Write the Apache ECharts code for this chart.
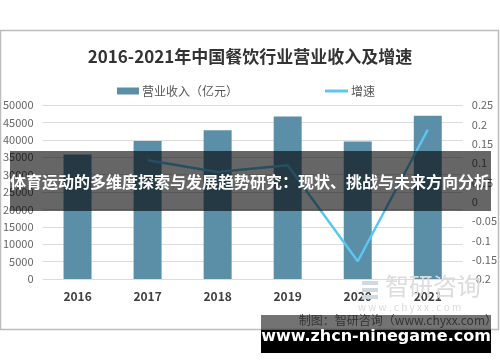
<!DOCTYPE html>
<html><head><meta charset="utf-8">
<script src="https://cdn.jsdelivr.net/npm/echarts@6/dist/echarts.min.js"></script>
<style>html,body{margin:0;padding:0;background:#fff}#c{width:500px;height:362px}</style>
</head><body><div id="c"></div>
<script>
var categories = ['2016', '2017', '2018', '2019', '2020', '2021'];
var revenue = [35799, 39644, 42716, 46721, 39527, 46895];
var growth = [null, 0.107, 0.077, 0.094, -0.154, 0.186];
var leftTicks = {min: 0, max: 50000, interval: 5000};
var rightTicks = {min: -0.2, max: 0.25, interval: 0.05};
var titleText = '2016-2021年中国餐饮行业营业收入及增速';
var seriesNames = ['营业收入（亿元）', '增速'];
var bannerText = '体育运动的多维度探索与发展趋势研究：现状、挑战与未来方向分析';
var sourceText = '制图：智研咨询（www.chyxx.com）';
var siteText = 'www.zhcn-ninegame.com';

var FF = '"Noto Sans CJK SC", "Noto Sans", sans-serif';
var chart = echarts.init(document.getElementById('c'));
chart.setOption({
  animation: false,
  textStyle: {fontFamily: FF},
  title: {text: titleText, left: 'center', top: 43,
    textStyle: {fontSize: 17, fontWeight: 'bold', color: '#333', fontFamily: FF}},
  legend: [
    {data: [seriesNames[0]], left: 112, top: 80, itemWidth: 22, itemHeight: 7, itemGap: 3,
     icon: 'rect', textStyle: {fontSize: 12, color: '#555', padding: [0,0,0,-2]}},
    {data: [seriesNames[1]], left: 320, top: 80, itemWidth: 23, itemHeight: 3,
     icon: 'rect', textStyle: {fontSize: 12, color: '#555', padding: [0,0,0,-2]}}
  ],
  grid: {left: 39, right: 36, top: 105, bottom: 83},
  xAxis: {type: 'category', data: categories,
    axisLine: {show: false}, axisTick: {show: false},
    axisLabel: {fontSize: 12, fontWeight: 'bold', color: '#404040', margin: 11}},
  yAxis: [
    {type: 'value', min: leftTicks.min, max: leftTicks.max, interval: leftTicks.interval,
     axisLine: {show: false}, axisTick: {show: false},
     axisLabel: {fontSize: 11, color: '#666', margin: 9,
       formatter: function (v) { return String(v); }},
     splitLine: {lineStyle: {color: '#dcdcdc', width: 1}}},
    {type: 'value', min: rightTicks.min, max: rightTicks.max, interval: rightTicks.interval,
     axisLine: {show: false}, axisTick: {show: false}, splitLine: {show: false},
     axisLabel: {fontSize: 11, color: '#666', margin: 9,
       formatter: function (v) { return String(+v.toFixed(2)); }}}
  ],
  series: [
    {name: seriesNames[0], type: 'bar', data: revenue, barWidth: 28,
     itemStyle: {color: '#5B8FA8'}},
    {name: seriesNames[1], type: 'line', yAxisIndex: 1, data: growth,
     symbol: 'none', connectNulls: false,
     lineStyle: {color: '#5CC6F0', width: 2.5}, itemStyle: {color: '#5CC6F0'}}
  ],
  graphic: [
    {type: 'rect', z: 100, shape: {x: 0.5, y: 30.5, width: 498, height: 299},
     style: {fill: 'none', stroke: '#bdbdbd', lineWidth: 1.5}},
    {type: 'text', z: 100, left: 385, top: 274,
     style: {text: '智研咨询', fontSize: 24, fill: '#dcdcdc', fontFamily: FF}},
    {type: 'text', z: 100, left: 358, top: 302,
     style: {text: 'w w w . c h y x x . c o m', fontSize: 10, fill: '#dcdcdc', fontFamily: FF}},
    {type: 'rect', z: 100, shape: {x: 362, y: 281, width: 16, height: 4}, style: {fill: '#d0d8e0'}},
    {type: 'rect', z: 100, shape: {x: 362, y: 288, width: 16, height: 4}, style: {fill: '#d0d8e0'}},
    {type: 'rect', z: 100, shape: {x: 362, y: 295, width: 16, height: 4}, style: {fill: '#d0d8e0'}},
    {type: 'rect', z: 110, shape: {x: 10, y: 151, width: 481, height: 60},
     style: {fill: 'rgba(0,0,0,0.6)'}},
    {type: 'text', z: 111, x: 250, y: 182,
     style: {text: bannerText, fontSize: 16, fontWeight: 'bold', fill: '#fff',
       textAlign: 'center', textVerticalAlign: 'middle', fontFamily: FF}},
    {type: 'rect', z: 110, shape: {x: 261, y: 315, width: 230, height: 15},
     style: {fill: 'rgba(0,0,0,0.55)'}},
    {type: 'rect', z: 110, shape: {x: 261, y: 330, width: 230, height: 23},
     style: {fill: '#000'}},
    {type: 'text', z: 111, x: 497, y: 320,
     style: {text: sourceText, fontSize: 12, fill: '#333', textAlign: 'right',
       textVerticalAlign: 'middle', fontFamily: FF}},
    {type: 'text', z: 111, x: 376, y: 337,
     style: {text: siteText, fontSize: 16, fontWeight: 'bold', fill: '#fff', textAlign: 'center',
       textVerticalAlign: 'middle', fontFamily: '"DejaVu Sans", sans-serif'}}
  ]
});
</script></body></html>
